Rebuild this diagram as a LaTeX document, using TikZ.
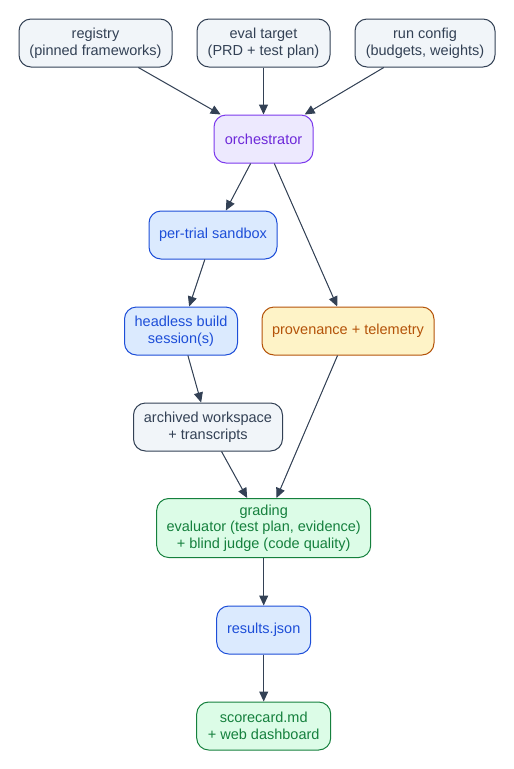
\documentclass[tikz,border=0pt]{standalone}
\usepackage{fontspec}
\setmainfont{Liberation Sans}
\usetikzlibrary{arrows.meta}
\definecolor{gfill}{HTML}{F1F5F9}\definecolor{gline}{HTML}{334155}
\definecolor{pfill}{HTML}{EDE9FE}\definecolor{pline}{HTML}{7C3AED}\definecolor{ptext}{HTML}{6D28D9}
\definecolor{bfill}{HTML}{DBEAFE}\definecolor{bline}{HTML}{1D4ED8}
\definecolor{ofill}{HTML}{FEF3C7}\definecolor{oline}{HTML}{B45309}
\definecolor{nfill}{HTML}{DCFCE7}\definecolor{nline}{HTML}{15803D}
\tikzset{
  box/.style={rounded corners=12pt, line width=1pt, align=center, inner sep=0pt,
    minimum height=48pt, font=\fontsize{14.5}{16.5}\selectfont},
  graybox/.style={box, fill=gfill, draw=gline, text=gline},
  purplebox/.style={box, fill=pfill, draw=pline, text=ptext},
  bluebox/.style={box, fill=bfill, draw=bline, text=bline},
  orangebox/.style={box, fill=ofill, draw=oline, text=oline},
  greenbox/.style={box, fill=nfill, draw=nline, text=nline},
  edge/.style={draw=gline, line width=1pt, -{Triangle[length=10pt,width=9pt]}, fill=gline}
}
\begin{document}
\begin{tikzpicture}[x=1pt,y=-1pt]
\useasboundingbox (0,0) rectangle (514,769);
\node[graybox, minimum width=153pt] (reg) at (95.5,43) {registry\\(pinned frameworks)};
\node[graybox, minimum width=133pt] (eval) at (263.5,43) {eval target\\(PRD + test plan)};
\node[graybox, minimum width=140pt] (run) at (425,43) {run config\\(budgets, weights)};
\node[purplebox, minimum width=99pt] (orch) at (263.5,139) {orchestrator};
\node[bluebox, minimum width=128pt] (sand) at (213,235) {per-trial sandbox};
\node[bluebox, minimum width=113pt] (head) at (181,331) {headless build\\session(s)};
\node[orangebox, minimum width=172pt] (prov) at (348,331) {provenance + telemetry};
\node[graybox, minimum width=149pt] (arch) at (208,427) {archived workspace\\+ transcripts};
\node[greenbox, minimum width=214pt, minimum height=59pt] (grad) at (263.7,528) {grading\\evaluator (test plan, evidence)\\+ blind judge (code quality)};
\node[bluebox, minimum width=94pt] (res) at (263.7,630) {results.json};
\node[greenbox, minimum width=134pt] (score) at (263.7,726) {scorecard.md\\+ web dashboard};
\draw[edge] (reg) -- (orch);
\draw[edge] (eval) -- (orch);
\draw[edge] (run) -- (orch);
\draw[edge] (orch) -- (sand);
\draw[edge] (orch) -- (prov);
\draw[edge] (sand) -- (head);
\draw[edge] (head) -- (arch);
\draw[edge] (arch) -- (grad);
\draw[edge] (prov) -- (grad);
\draw[edge] (grad) -- (res);
\draw[edge] (res) -- (score);
\end{tikzpicture}
\end{document}
